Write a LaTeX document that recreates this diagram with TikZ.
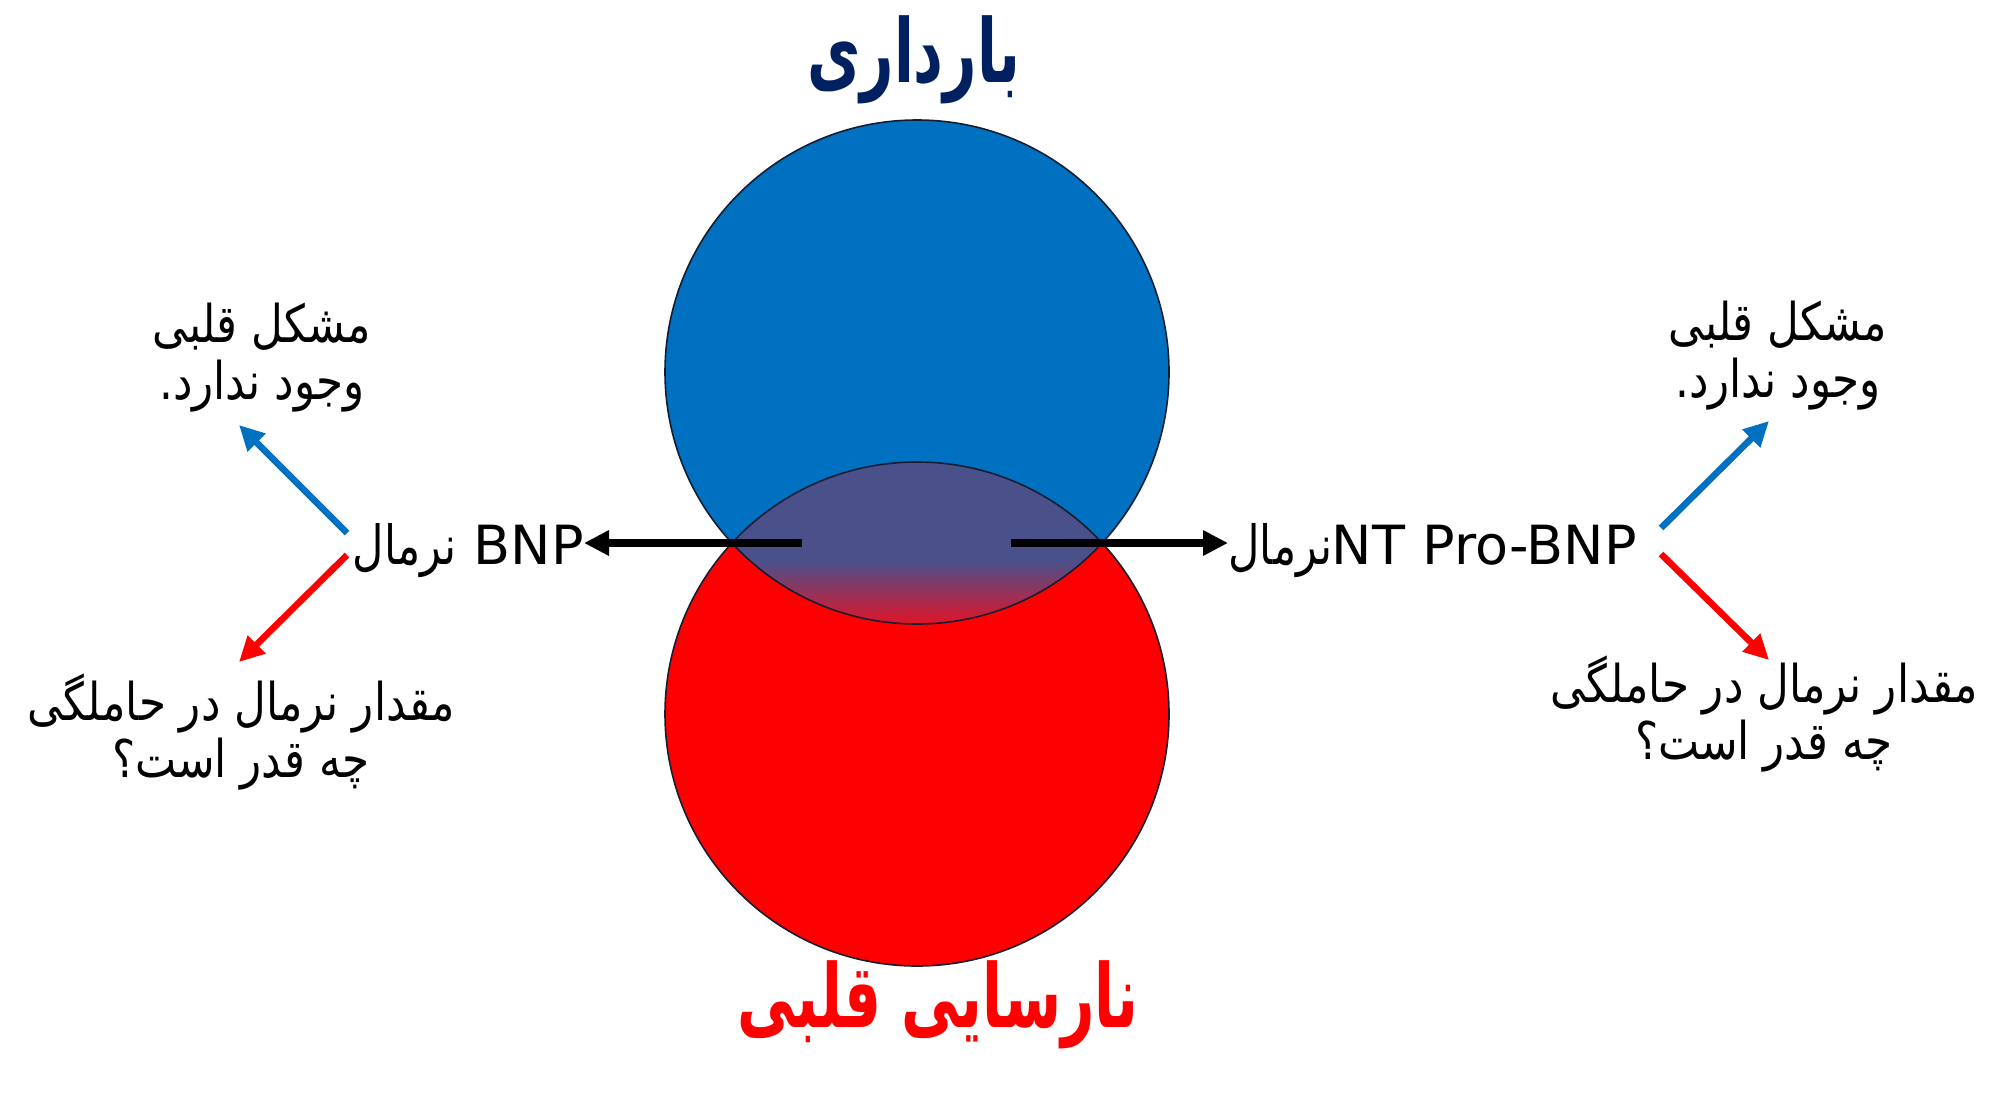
\documentclass[tikz,border=0pt]{standalone}
\usepackage{fontspec}
\setmainfont{DejaVu Sans}
\newfontfamily\fa[Script=Arabic,FakeStretch=0.84]{DejaVu Sans}
\newfontfamily\falbl[Script=Arabic,FakeStretch=0.8]{DejaVu Sans}
\newfontfamily\fattl[Script=Arabic,FakeStretch=0.66]{DejaVu Sans Bold}
\TeXXeTstate=1
\usetikzlibrary{arrows.meta}
\definecolor{navy}{RGB}{0,32,96}
\definecolor{blueC}{RGB}{0,112,192}
\definecolor{redC}{RGB}{255,0,0}
\definecolor{lensC}{RGB}{74,80,138}
\definecolor{lensR}{RGB}{225,20,40}
\definecolor{edgeC}{RGB}{20,30,50}
\begin{document}
\begin{tikzpicture}[x=0.5pt,y=-0.5pt,
  outline/.style={draw=edgeC,line width=0.8pt},
  blkarrow/.style={line width=4pt,-{Triangle[length=12.5pt,width=12pt]}},
  bluearrow/.style={draw=blueC,line width=3.3pt,-{Triangle[length=12.5pt,width=12pt]}},
  redarrow/.style={draw=redC,line width=3.3pt,-{Triangle[length=12.5pt,width=12pt]}},
  lbl/.style={inner sep=0pt,font=\fontsize{27pt}{30pt}\selectfont},
  note/.style={inner sep=0pt,align=center,font=\fontsize{26pt}{28.5pt}\selectfont\fa},
  ttl/.style={inner sep=0pt,font=\fontsize{44pt}{50pt}\selectfont\fattl}]
\useasboundingbox (0,0) rectangle (2000,1104);
% circles
\fill[redC] (917,714) circle[radius=126pt];
\fill[blueC] (917,372) circle[radius=126pt];
\begin{scope}
  \clip (917,372) circle[radius=126pt];
  \clip (917,714) circle[radius=126pt];
  \fill[lensC] (600,440) rectangle (1230,562);
  \shade[top color=lensC,bottom color=lensR] (600,561) rectangle (1230,624);
  \fill[lensR] (600,623) rectangle (1230,640);
\end{scope}
\draw[outline] (917,372) circle[radius=126pt];
\draw[outline] (917,714) circle[radius=126pt];
% titles
\node[ttl,text=navy,anchor=base] (preg) at (914,82) {\beginR بارداری\endR};
\node[ttl,text=redC,anchor=base] (hf) at (938,1027) {\beginR نارسایی قلبی\endR};
% middle labels
\node[lbl,anchor=base east] (bnpL) at (584,564) {{\falbl\beginR نرمال\endR} BNP};
\node[lbl,anchor=base west] (bnpR) at (1228,564) {{\falbl\beginR نرمال\endR}NT Pro-BNP};
% notes
\node[note] (lTop) at (262,358) {\beginR مشکل قلبی\endR\\\beginR وجود ندارد.\endR};
\node[note] (lBot) at (241,732) {\beginR مقدار نرمال در حاملگی\endR\\\beginR چه قدر است؟\endR};
\node[note] (rTop) at (1778,356) {\beginR مشکل قلبی\endR\\\beginR وجود ندارد.\endR};
\node[note] (rBot) at (1764,714) {\beginR مقدار نرمال در حاملگی\endR\\\beginR چه قدر است؟\endR};
% arrow ends
\coordinate (lensL) at (802,543);
\coordinate (lensRt) at (1011,543);
\coordinate (lbS) at (347,533);
\coordinate (lbE) at (239,425);
\coordinate (lrS) at (347,555);
\coordinate (lrE) at (239,662);
\coordinate (rbS) at (1661,528);
\coordinate (rbE) at (1769,421);
\coordinate (rrS) at (1661,554);
\coordinate (rrE) at (1769,660);
\draw[blkarrow] (lensL) -- (lensL -| bnpL.east);
\draw[blkarrow] (lensRt) -- (lensRt -| bnpR.west);
\draw[bluearrow] (lbS) -- (lbE);
\draw[redarrow] (lrS) -- (lrE);
\draw[bluearrow] (rbS) -- (rbE);
\draw[redarrow] (rrS) -- (rrE);
\end{tikzpicture}
\end{document}
